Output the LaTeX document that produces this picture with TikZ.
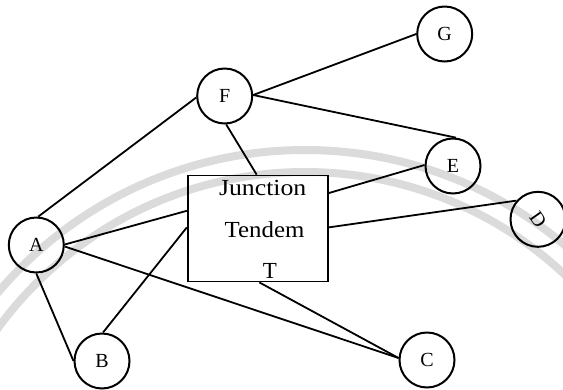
\documentclass[tikz,border=0pt]{standalone}
\usepackage{fontspec}
\setmainfont{Liberation Serif}
\begin{document}
\begin{tikzpicture}[x=1pt,y=-1pt,
  station/.style={circle,draw,line width=2pt,minimum size=55pt,inner sep=0pt,
    font=\fontsize{20}{20}\selectfont},
  tandem/.style={draw,line width=1.8pt,minimum width=140pt,minimum height=106pt,inner sep=0pt},
  boxtext/.style={anchor=base,inner sep=0pt,font=\fontsize{23}{23}\selectfont},
  link/.style={line width=1.8pt},
  wmark/.style={line width=8pt,draw=black!14}]
\useasboundingbox (0,0) rectangle (563,389);

% faint background arcs
\begin{scope}
  \clip (0,0) rectangle (563,389);
  \draw[wmark] (305,552) circle[radius=402];
  \draw[wmark] (305,552) circle[radius=380];
\end{scope}

% exchanges
\node[station] (A) at (36.3,245) {A};
\node[station] (B) at (102,361) {B};
\node[station] (C) at (427,360) {C};
\node[station] (D) at (538,219.3) {\rotatebox{-55}{D}};
\node[station] (E) at (453,166) {E};
\node[station] (F) at (224.7,96) {F};
\node[station] (G) at (444.7,34) {G};

% tandem junction
\node[tandem] (T) at (257.75,228.5) {};
\node[boxtext] (t1) at (262.7,195) {\scalebox{1.12}[1]{Junction}};
\node[boxtext] (t2) at (264.5,237.3) {\scalebox{1.08}[1]{Tendem}};
\node[boxtext] (t3) at (270,278.3) {T};

% links
\draw[link] (A.86) -- (F.183);
\draw[link] (F.2) -- (G.180);
\draw[link] (F.2) -- (E.84);
\draw[link] (F.-87) -- ([xshift=69.8pt]T.north west);
\draw[link] ([yshift=-18.5pt]T.north east) -- (E.178);
\draw[link] ([yshift=-52.8pt]T.north east) -- (D.139);
\draw[link] (A.1) -- ([yshift=-36.2pt]T.north west);
\draw[link] (A.-3) -- (C.176);
\draw[link] (A.-90) -- (B.180);
\draw[link] (B.88) -- ([yshift=-52.8pt]T.north west);
\draw[link] ([xshift=72.5pt]T.south west) -- (C.176);
\end{tikzpicture}
\end{document}
